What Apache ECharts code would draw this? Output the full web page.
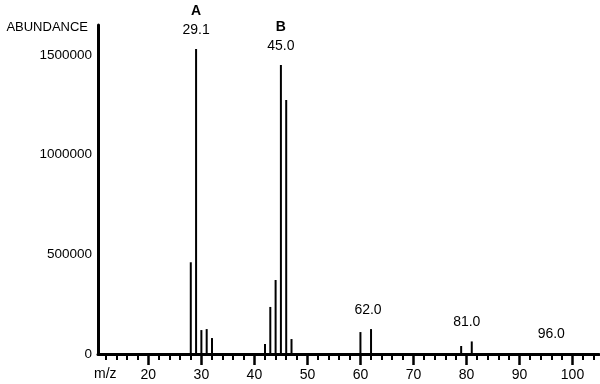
<!DOCTYPE html>
<html>
<head>
<meta charset="utf-8">
<script src="https://cdn.jsdelivr.net/npm/echarts@6/dist/echarts.min.js"></script>
<style>
  html, body { margin: 0; padding: 0; background: #fff; }
  #chart { width: 600px; height: 384px; }
</style>
</head>
<body>
<div id="chart"></div>
<script>
// peaks of the spectrum
const mz = [28, 29, 30, 31, 32, 42, 43, 44, 45, 46, 47, 60, 62, 79, 81, 96];
const abundance = [460000, 1530000, 120000, 125000, 80000, 50000, 236000, 371000,
  1450000, 1274000, 75000, 110000, 125000, 40000, 63000, 4000];

// annotated peaks
const tagMz = [29, 45, 62, 81, 96];
const tagText = ['29.1', '45.0', '62.0', '81.0', '96.0'];
const tagLetter = ['A', 'B', '', '', ''];

const xMajor = [20, 30, 40, 50, 60, 70, 80, 90, 100];
const xMinor = [12, 14, 16, 18, 22, 24, 26, 28, 32, 34, 36, 38, 42, 44, 46, 48,
  52, 54, 56, 58, 62, 64, 66, 68, 72, 74, 76, 78, 82, 84, 86, 88, 92, 94, 96, 98, 102, 104];
const yTicks = [0, 500000, 1000000, 1500000];

const FONT = 'Liberation Sans, Arial, sans-serif';
const labelShift = { 62: -3, 81: -5 };

const chart = echarts.init(document.getElementById('chart'), null, { renderer: 'canvas' });

const seriesData = mz.map((m, i) => {
  const k = tagMz.indexOf(m);
  const item = { value: [m, abundance[i]] };
  if (k >= 0) {
    const letter = tagLetter[k];
    item.label = {
      show: true,
      position: 'top',
      distance: 11,
      offset: [labelShift[m] || 0, 0],
      formatter: letter ? '{b|' + letter + '}\n{t|' + tagText[k] + '}' : '{t|' + tagText[k] + '}',
      rich: {
        b: { fontFamily: FONT, fontSize: 14, fontWeight: 'bold', color: '#000', lineHeight: 22 },
        t: { fontFamily: FONT, fontSize: 14, color: '#000', lineHeight: 16 }
      }
    };
  }
  return item;
});

const baseX = {
  type: 'value',
  min: 10.5,
  max: 105,
  position: 'bottom',
  splitLine: { show: false }
};

chart.setOption({
  animation: false,
  grid: { left: 98, right: 1, top: 25, bottom: 30 },
  xAxis: [
    Object.assign({}, baseX, {
      axisLine: { show: true, onZero: false, lineStyle: { color: '#000', width: 3 } },
      axisTick: { show: true, customValues: xMajor, length: 11, lineStyle: { color: '#000', width: 2.5 } },
      axisLabel: {
        customValues: xMajor, margin: 14,
        fontFamily: FONT, fontSize: 14, color: '#000'
      }
    }),
    Object.assign({}, baseX, {
      axisLine: { show: false },
      axisTick: { show: true, customValues: xMinor, length: 6, lineStyle: { color: '#000', width: 2 } },
      axisLabel: { show: false }
    })
  ],
  yAxis: {
    type: 'value',
    min: 0,
    max: 1650000,
    name: 'ABUNDANCE',
    nameLocation: 'end',
    nameGap: -2,
    nameTextStyle: {
      fontFamily: FONT, fontSize: 13, color: '#000',
      align: 'right', verticalAlign: 'middle', padding: [0, 10, 0, 0]
    },
    axisLine: { show: true, lineStyle: { color: '#000', width: 3 } },
    axisTick: { show: false },
    splitLine: { show: false },
    axisLabel: {
      customValues: yTicks, margin: 6,
      formatter: (v) => String(v),
      fontFamily: FONT, fontSize: 13.5, color: '#000'
    }
  },
  graphic: [{
    type: 'text',
    left: 94,
    top: 367,
    style: { text: 'm/z', fontFamily: FONT, fontSize: 14, fill: '#000' }
  }],
  series: [{
    type: 'bar',
    xAxisIndex: 0,
    barWidth: 2,
    itemStyle: { color: '#000' },
    data: seriesData
  }]
});
</script>
</body>
</html>
